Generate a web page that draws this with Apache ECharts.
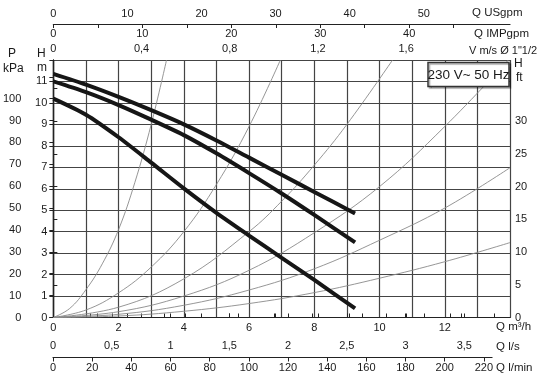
<!DOCTYPE html>
<html><head><meta charset="utf-8">
<script src="https://cdn.jsdelivr.net/npm/echarts@6/dist/echarts.min.js"></script>
<style>html,body{margin:0;padding:0;background:#fff}#c{width:550px;height:384px}</style>
</head><body><div id="c"></div>
<script>
// ---- pump curves (Q m3/h, H m) ----
const pumpQ    = [0, 1, 2, 3, 4, 5, 6, 7, 8, 9.25];
const pumpHigh = [11.35, 10.85, 10.28, 9.66, 9.0, 8.25, 7.45, 6.65, 5.85, 4.85];
const pumpMid  = [11.0, 10.5, 9.9, 9.22, 8.5, 7.65, 6.73, 5.78, 4.78, 3.5];
const pumpLow  = [10.2, 9.45, 8.4, 7.22, 6.02, 4.88, 3.82, 2.78, 1.75, 0.42];

// ---- thin system curves ----
const sys1Q = [0, 0.5, 1, 1.5, 2, 2.5, 3, 3.47];
const sys1H = [0, 0.42, 1.3, 2.5, 4.1, 6.3, 9.0, 12];
const sys2Q = [0, 1, 2, 3, 4, 5, 6, 6.96];
const sys2H = [0, 0.35, 1.15, 2.35, 4.0, 6.2, 8.9, 12];
const sys3Q = [0, 2, 4, 6, 7, 8, 9, 10.4];
const sys3H = [0, 0.48, 1.8, 4.0, 5.42, 7.1, 9.0, 12];
const sys4Q = [0, 2, 4, 6, 8, 10, 12, 13.95];
const sys4H = [0, 0.27, 1.0, 2.2, 3.95, 6.1, 8.9, 12];
const sys5Q = [0, 2, 4, 6, 8, 10, 12, 14];
const sys5H = [0, 0.15, 0.57, 1.28, 2.27, 3.6, 5.1, 6.98];
const sys6Q = [0, 2, 4, 6, 8, 10, 12, 14];
const sys6H = [0, 0.07, 0.29, 0.65, 1.16, 1.83, 2.6, 3.49];

// ---- tick labels ----
const qLabels     = [0, 2, 4, 6, 8, 10, 12];
const hLabels     = [0,1,2,3,4,5,6,7,8,9,10,11];
const kPaTicks    = [0,10,20,30,40,50,60,70,80,90,100,110];
const kPaLabels   = [0,10,20,30,40,50,60,70,80,90,100];
const ftTicks     = [0,5,10,15,20,25,30,35];
const ftLabels    = [0,5,10,15,20,25,30];
const velTicks    = [0,0.2,0.4,0.6,0.8,1.0,1.2,1.4,1.6,1.8,2.0];
const velLabels   = [0,0.4,0.8,1.2,1.6];
const usTicks     = [0,5,10,15,20,25,30,35,40,45,50,55];
const usLabels    = [0,10,20,30,40,50];
const impTicks    = [0,5,10,15,20,25,30,35,40,45];
const impLabels   = [0,10,20,30,40];
const lsTicks     = [0,0.5,1,1.5,2,2.5,3,3.5];
const lminTicks   = [0,20,40,60,80,100,120,140,160,180,200,220];

// ---- unit conversions (per m3/h) ----
const Q_MAX = 14, H_MAX = 12;
const KPA_PER_M = 9.80665, FT_PER_M = 1/0.3048;
const USGPM_PER_M3H = 1/0.2271247, IMPGPM_PER_M3H = 1/0.272765;
const MS_PER_M3H = 1/6.76;
const LOWER_Q_MAX = 13.45;

const pairs = (q, h) => q.map((v, i) => [v, h[i]]);
const comma = v => String(v).replace('.', ',');
const FONT = 'Liberation Sans, Arial, sans-serif';
const TXT = '#1a1a1a';
const lbl = (extra) => Object.assign({color: TXT, fontSize: 11, fontFamily: FONT}, extra);

const chart = echarts.init(document.getElementById('c'), null, {renderer: 'canvas', width: 550, height: 384});

const lineAx = {show: true, lineStyle: {color: '#222', width: 1.2}};
const tickSt = {color: '#222', width: 1};

const thin = (q, h) => ({type: 'line', xAxisIndex: 0, yAxisIndex: 0, data: pairs(q, h), smooth: 0.4,
  showSymbol: false, silent: true, lineStyle: {color: '#8a8a8a', width: 0.9}, z: 2});
const thick = (h) => ({type: 'line', xAxisIndex: 0, yAxisIndex: 0, data: pairs(pumpQ, h), smooth: 0.25,
  showSymbol: false, silent: true, lineStyle: {color: '#161616', width: 4}, z: 3});

const option = {
  animation: false,
  backgroundColor: '#fff',
  grid: [
    {left: 53, right: 40, top: 60, bottom: 66.5},
    {left: 53, right: 550 - 53 - LOWER_Q_MAX * (550 - 53 - 40) / Q_MAX, top: 60, bottom: 66.5}
  ],
  xAxis: [
    { // Q m3/h
      type: 'value', gridIndex: 0, min: 0, max: Q_MAX, interval: 1, position: 'bottom',
      axisLine: lineAx, axisTick: {show: false},
      axisLabel: lbl({margin: 5, customValues: qLabels}),
      splitLine: {show: true, lineStyle: {color: '#444', width: 1.2}}
    },
    { // V m/s
      type: 'value', gridIndex: 0, min: 0, max: Q_MAX * MS_PER_M3H, position: 'top',
      axisLine: lineAx, axisTick: {show: true, length: 4, lineStyle: tickSt, customValues: velTicks},
      axisLabel: lbl({margin: 6, customValues: velLabels, formatter: comma}),
      splitLine: {show: false}
    },
    { // USgpm
      type: 'value', gridIndex: 0, min: 0, max: Q_MAX * USGPM_PER_M3H, position: 'top', offset: 36,
      axisLine: lineAx, axisTick: {show: true, length: 4, lineStyle: tickSt, customValues: usTicks},
      axisLabel: lbl({margin: 5, customValues: usLabels}),
      splitLine: {show: false}
    },
    { // IMPgpm
      type: 'value', gridIndex: 0, min: 0, max: Q_MAX * IMPGPM_PER_M3H, position: 'top', offset: 36,
      axisLine: lineAx, axisTick: {show: true, inside: true, length: 4, lineStyle: tickSt, customValues: impTicks},
      axisLabel: lbl({inside: true, margin: 4, customValues: impLabels}),
      splitLine: {show: false}
    },
    { // l/s
      type: 'value', gridIndex: 1, min: 0, max: LOWER_Q_MAX / 3.6, position: 'bottom', offset: 40,
      axisLine: lineAx, axisTick: {show: true, inside: true, length: 4, lineStyle: tickSt, customValues: lsTicks},
      axisLabel: lbl({inside: true, margin: 6, customValues: lsTicks, formatter: comma}),
      splitLine: {show: false}
    },
    { // l/min
      type: 'value', gridIndex: 1, min: 0, max: LOWER_Q_MAX * 1000 / 60, position: 'bottom', offset: 40,
      axisLine: lineAx, axisTick: {show: true, length: 4, lineStyle: tickSt, customValues: lminTicks},
      axisLabel: lbl({margin: 5, customValues: lminTicks}),
      splitLine: {show: false}
    }
  ],
  yAxis: [
    { // H m
      type: 'value', gridIndex: 0, min: 0, max: H_MAX, interval: 1, position: 'left',
      axisLine: lineAx, axisTick: {show: true, length: 4, lineStyle: tickSt},
      axisLabel: lbl({margin: 6, customValues: hLabels}),
      splitLine: {show: true, lineStyle: {color: '#444', width: 1.2}}
    },
    { // P kPa
      type: 'value', gridIndex: 0, min: 0, max: H_MAX * KPA_PER_M, position: 'left', offset: 27,
      axisLine: lineAx, axisTick: {show: true, length: 4, lineStyle: tickSt, customValues: kPaTicks},
      axisLabel: lbl({margin: 5, customValues: kPaLabels}),
      splitLine: {show: false}
    },
    { // H ft
      type: 'value', gridIndex: 0, min: 0, max: H_MAX * FT_PER_M, position: 'right',
      axisLine: lineAx, axisTick: {show: true, length: 4, lineStyle: tickSt, customValues: ftTicks},
      axisLabel: lbl({margin: 5, customValues: ftLabels}),
      splitLine: {show: false}
    },
    { type: 'value', gridIndex: 1, show: false, min: 0, max: H_MAX }
  ],
  series: [
    thin(sys1Q, sys1H), thin(sys2Q, sys2H), thin(sys3Q, sys3H),
    thin(sys4Q, sys4H), thin(sys5Q, sys5H), thin(sys6Q, sys6H),
    thick(pumpHigh), thick(pumpMid), thick(pumpLow)
  ],
  graphic: [
    {type: 'text', left: 8, top: 48, style: {text: 'P', font: '12px ' + FONT, fill: TXT}},
    {type: 'text', left: 3, top: 63, style: {text: 'kPa', font: '12px ' + FONT, fill: TXT}},
    {type: 'text', left: 37, top: 48, style: {text: 'H', font: '12px ' + FONT, fill: TXT}},
    {type: 'text', left: 37, top: 62, style: {text: 'm', font: '12px ' + FONT, fill: TXT}},
    {type: 'text', left: 514, top: 58, style: {text: 'H', font: '12px ' + FONT, fill: TXT}},
    {type: 'text', left: 516, top: 72, style: {text: 'ft', font: '12px ' + FONT, fill: TXT}},
    {type: 'text', left: 472, top: 7, style: {text: 'Q USgpm', font: '11.5px ' + FONT, fill: TXT}},
    {type: 'text', left: 474, top: 28, style: {text: 'Q IMPgpm', font: '11.5px ' + FONT, fill: TXT}},
    {type: 'text', left: 469, top: 45, style: {text: 'V m/s Ø 1"1/2', font: '11px ' + FONT, fill: TXT}},
    {type: 'text', left: 496, top: 321, style: {text: 'Q m³/h', font: '11.5px ' + FONT, fill: TXT}},
    {type: 'text', left: 496, top: 341, style: {text: 'Q l/s', font: '11.5px ' + FONT, fill: TXT}},
    {type: 'text', left: 496, top: 362, style: {text: 'Q l/min', font: '11.5px ' + FONT, fill: TXT}},
    {type: 'rect', z: 100, shape: {x: 428, y: 62.5, width: 81, height: 24},
      style: {fill: '#fff', stroke: '#333', lineWidth: 1.5, shadowColor: 'rgba(0,0,0,0.35)', shadowOffsetX: 1.5, shadowOffsetY: 1.5, shadowBlur: 1}},
    {type: 'text', z: 101, x: 468.5, y: 75, style: {text: '230 V~ 50 Hz', font: '13.5px ' + FONT, fill: TXT, align: 'center', verticalAlign: 'middle'}}
  ]
};
chart.setOption(option);
</script>
</body></html>
